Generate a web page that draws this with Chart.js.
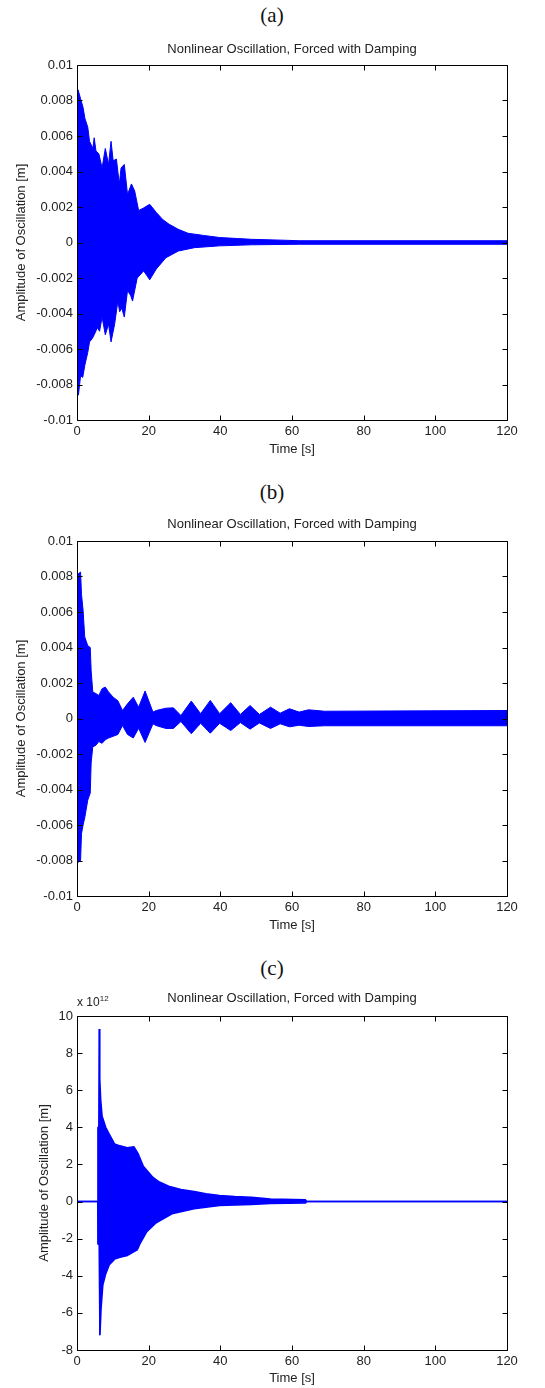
<!DOCTYPE html>
<html>
<head>
<meta charset="utf-8">
<script src="https://cdn.jsdelivr.net/npm/chart.js@4.4.1/dist/chart.umd.min.js"></script>
<style>
  body { margin: 0; background: #fff; }
  #page { position: relative; width: 545px; height: 1388px; overflow: hidden; }
  .cap { position: absolute; transform: translateX(-50%); font-family: "Liberation Serif", serif; font-size: 21px; line-height: 24px; color: #111; }
  .expo { position: absolute; font-family: "Liberation Sans", sans-serif; font-size: 12px; color: #222; }
  .expo sup { font-size: 8px; }
  canvas { position: absolute; left: 0; }
</style>
</head>
<body>
<div id="page">
  <div class="cap" style="left:272px; top:3px;">(a)</div>
  <canvas id="chartA" width="545" height="432" style="top:30px;"></canvas>
  <div class="cap" style="left:272px; top:480px;">(b)</div>
  <canvas id="chartB" width="545" height="432" style="top:507px;"></canvas>
  <div class="cap" style="left:272px; top:956px;">(c)</div>
  <canvas id="chartC" width="545" height="406" style="top:982px;"></canvas>
  <div class="expo" style="left:77px; top:994px;">x 10<sup>12</sup></div>
</div>
<script>
// tick labels
const xTicks = [0, 20, 40, 60, 80, 100, 120];
const yTicksAB = [-0.01, -0.008, -0.006, -0.004, -0.002, 0, 0.002, 0.004, 0.006, 0.008, 0.01];
const yTicksC = [-8e12, -6e12, -4e12, -2e12, 0, 2e12, 4e12, 6e12, 8e12, 10e12];

// (a) envelope of the oscillation, upper and lower [s], [m]
const timeUpA = [0, 0.3, 1.0, 1.7, 2.2, 3.0, 3.5, 4.4, 4.8, 5.3, 6.1, 7.0, 7.9, 8.8, 9.5, 10.1, 11.0, 11.8, 12.3, 13.2,
  14.1, 15.2, 16.1, 17.2, 18.6, 20.3, 22.1, 23.9, 25.7, 28.3, 31.0, 35.3, 39.8, 45.1, 48.7, 57.5, 62, 120];
const ampUpA = [0.0082, 0.0086, 0.0081, 0.0076, 0.0070, 0.0065, 0.0057, 0.0053, 0.0059, 0.00515, 0.0050, 0.0042, 0.0053,
  0.0044, 0.0057, 0.0046, 0.0047, 0.0033, 0.0042, 0.0044, 0.0027, 0.0033, 0.0029, 0.0018, 0.00195, 0.00215, 0.0017,
  0.0013, 0.00103, 0.00074, 0.00052, 0.0004, 0.00028, 0.00022, 0.00018, 0.00013, 0.0001, 0.0001];
const timeLoA = [0, 0.4, 1.0, 1.6, 2.2, 3.0, 3.5, 4.3, 4.8, 5.7, 6.3, 7.0, 7.9, 8.8, 9.5, 10.5, 11.4, 11.9, 12.5, 13.2,
  14.1, 15.0, 15.5, 16.8, 18.6, 20.3, 22.1, 24.8, 28.3, 32.8, 39.8, 48.7, 57.5, 62, 120];
const ampLoA = [-0.0080, -0.0086, -0.0075, -0.0076, -0.0069, -0.0062, -0.0056, -0.0054, -0.0052, -0.0048, -0.0050,
  -0.0042, -0.0052, -0.0046, -0.0056, -0.0046, -0.0033, -0.0039, -0.0037, -0.0042, -0.0027, -0.0030, -0.0033, -0.0020,
  -0.0016, -0.0021, -0.0015, -0.00086, -0.00048, -0.00029, -0.00019, -0.00013, -0.00011, -0.0001, -0.0001];

// (b)
const timeB = [0, 0.35, 1.0, 1.25, 1.7, 2.15, 3.0, 3.7, 3.95, 4.4, 5.3, 6.1, 7.0, 7.9, 8.8, 10.1, 11.4, 12.7, 14.1, 15.7,
  17.2, 19.0, 21.2, 22.1, 24.8, 26.9, 29.0, 31.9, 34.5, 37.2, 39.8, 42.9, 45.6, 48.3, 50.9, 54.0, 56.7, 59.3, 62.0,
  64.6, 69.1, 120];
const ampUpB = [0.0080, 0.00815, 0.00825, 0.0070, 0.0061, 0.0046, 0.0041, 0.0040, 0.0027, 0.0015, 0.0014, 0.0013,
  0.00168, 0.00177, 0.0015, 0.0012, 0.0010, 0.00045, 0.00083, 0.0012, 0.00064, 0.00155, 0.00036, 0.00045, 0.00058,
  0.0006, 0.00017, 0.00098, 0.00027, 0.00102, 0.00027, 0.00089, 0.00023, 0.00073, 0.00023, 0.00064, 0.0003, 0.00055,
  0.00036, 0.00049, 0.00041, 0.00045];
const ampLoB = [-0.0075, -0.0081, -0.0080, -0.0065, -0.0060, -0.0056, -0.0046, -0.0042, -0.0025, -0.0016, -0.0015,
  -0.0013, -0.0014, -0.0012, -0.0011, -0.0010, -0.0009, -0.0004, -0.0009, -0.0011, -0.00055, -0.00135, -0.0003,
  -0.0004, -0.00056, -0.00056, -0.00017, -0.00086, -0.00027, -0.00083, -0.00027, -0.00068, -0.00023, -0.0006,
  -0.00025, -0.00056, -0.0003, -0.00047, -0.00038, -0.00045, -0.00041, -0.00041];

// (c)
const timeUpC = [0, 5.8, 5.85, 6.1, 6.2, 6.35, 6.6, 7.0, 8.0, 8.8, 10.5, 12, 14, 15.9, 17, 18.5, 21.2, 23, 25.6, 29,
  32.7, 36, 39.8, 44, 48.7, 54, 63.8, 63.9, 120];
const ampUpC = [0, 0, 4.0e12, 4.0e12, 9.3e12, 6.6e12, 5.5e12, 4.6e12, 4.0e12, 3.7e12, 3.1e12, 3.0e12, 2.9e12, 2.95e12,
  2.6e12, 1.9e12, 1.3e12, 1.05e12, 0.82e12, 0.65e12, 0.54e12, 0.42e12, 0.32e12, 0.27e12, 0.23e12, 0.14e12, 0.09e12, 0, 0];
const timeLoC = [0, 5.8, 5.85, 6.2, 6.4, 6.7, 7.2, 8.0, 9.0, 10.5, 12, 14.1, 16.8, 17.5, 19.4, 22.1, 26.5, 32.7, 39.8,
  48.7, 54, 63.8, 63.9, 120];
const ampLoC = [0, 0, -2.3e12, -2.3e12, -7.2e12, -5.8e12, -4.5e12, -3.9e12, -3.4e12, -3.1e12, -3.0e12, -2.9e12,
  -2.6e12, -2.3e12, -1.64e12, -1.14e12, -0.66e12, -0.39e12, -0.21e12, -0.15e12, -0.1e12, -0.07e12, 0, 0];

const pts = (ts, vs) => ts.map((t, i) => ({ x: t, y: vs[i] }));

// MATLAB style box with inward ticks on all four sides, title centred over the axes
const matlabBox = {
  id: 'matlabBox',
  afterLayout(chart) {
    const t = chart.titleBlock;
    if (t) {
      t.left = chart.chartArea.left;
      t.right = chart.chartArea.right;
    }
  },
  afterDatasetsDraw(chart) {
    const { ctx, chartArea: a, scales: { x, y } } = chart;
    const L = Math.round(a.left) + 0.5, R = Math.round(a.right) + 0.5;
    const T = Math.round(a.top) + 0.5, B = Math.round(a.bottom) + 0.5;
    ctx.save();
    ctx.strokeStyle = '#000';
    ctx.lineWidth = 1;
    ctx.beginPath();
    x.ticks.forEach(t => {
      const px = Math.round(x.getPixelForValue(t.value)) + 0.5;
      ctx.moveTo(px, B); ctx.lineTo(px, B - 5);
      ctx.moveTo(px, T); ctx.lineTo(px, T + 5);
    });
    y.ticks.forEach(t => {
      const py = Math.round(y.getPixelForValue(t.value)) + 0.5;
      ctx.moveTo(L, py); ctx.lineTo(L + 5, py);
      ctx.moveTo(R, py); ctx.lineTo(R - 5, py);
    });
    ctx.rect(L, T, R - L, B - T);
    ctx.stroke();
    ctx.restore();
  }
};

const txt = '#222';
const sans = 'Liberation Sans';

function makePanel(id, upper, lower, yTicks, yFmt, d) {
  const style = { borderColor: '#0000ff', backgroundColor: '#0000ff', borderWidth: d.lw, borderJoinStyle: 'bevel',
                  pointRadius: 0, tension: 0 };
  return new Chart(document.getElementById(id), {
    type: 'line',
    data: {
      datasets: [
        { ...style, data: upper, fill: '+1' },
        { ...style, data: lower, fill: false }
      ]
    },
    options: {
      responsive: false,
      animation: false,
      devicePixelRatio: 1,
      layout: { padding: { left: 0, right: 38, top: 0, bottom: 0 } },
      plugins: {
        legend: { display: false },
        tooltip: { enabled: false },
        title: {
          display: true,
          text: 'Nonlinear Oscillation, Forced with Damping',
          color: txt,
          font: { family: sans, size: 13, weight: 'normal' },
          padding: { top: d.tTop, bottom: d.tBot }
        }
      },
      scales: {
        x: {
          type: 'linear', min: 0, max: 120,
          grid: { display: false, drawTicks: false }, border: { display: false },
          ticks: { color: txt, padding: 4, font: { family: sans, size: 13 } },
          afterBuildTicks: s => { s.ticks = xTicks.map(v => ({ value: v })); },
          afterFit: s => { s.height = d.xH; },
          title: { display: true, text: 'Time [s]', color: txt, padding: { top: 0, bottom: d.xtPad },
                   font: { family: sans, size: 13 } }
        },
        y: {
          min: yTicks[0], max: yTicks[yTicks.length - 1],
          grid: { display: false, drawTicks: false }, border: { display: false },
          ticks: { color: txt, padding: 4, font: { family: sans, size: 13 }, callback: yFmt },
          afterBuildTicks: s => { s.ticks = yTicks.map(v => ({ value: v })); },
          afterFit: s => { s.width = 77; },
          title: { display: true, text: 'Amplitude of Oscillation [m]', color: txt, padding: { top: d.ytPad, bottom: 0 },
                   font: { family: sans, size: 13 } }
        }
      }
    },
    plugins: [matlabBox]
  });
}

const fmtM = v => String(Number(v.toFixed(3)));
const fmtC = v => String(Math.round(v / 1e12));

makePanel('chartA', pts(timeUpA, ampUpA), pts(timeLoA, ampLoA), yTicksAB, fmtM,
  { tTop: 11.2, tBot: 8.2, xH: 42, xtPad: 5.2, ytPad: 13.2, lw: 1 });
makePanel('chartB', pts(timeB, ampUpB), pts(timeB, ampLoB), yTicksAB, fmtM,
  { tTop: 9.2, tBot: 9.2, xH: 43, xtPad: 6.2, ytPad: 13.2, lw: 1 });
makePanel('chartC', pts(timeUpC, ampUpC), pts(timeLoC, ampLoC), yTicksC, fmtC,
  { tTop: 8.2, tBot: 10.2, xH: 38, xtPad: 2.2, ytPad: 36.2, lw: 1.6 });
</script>
</body>
</html>
